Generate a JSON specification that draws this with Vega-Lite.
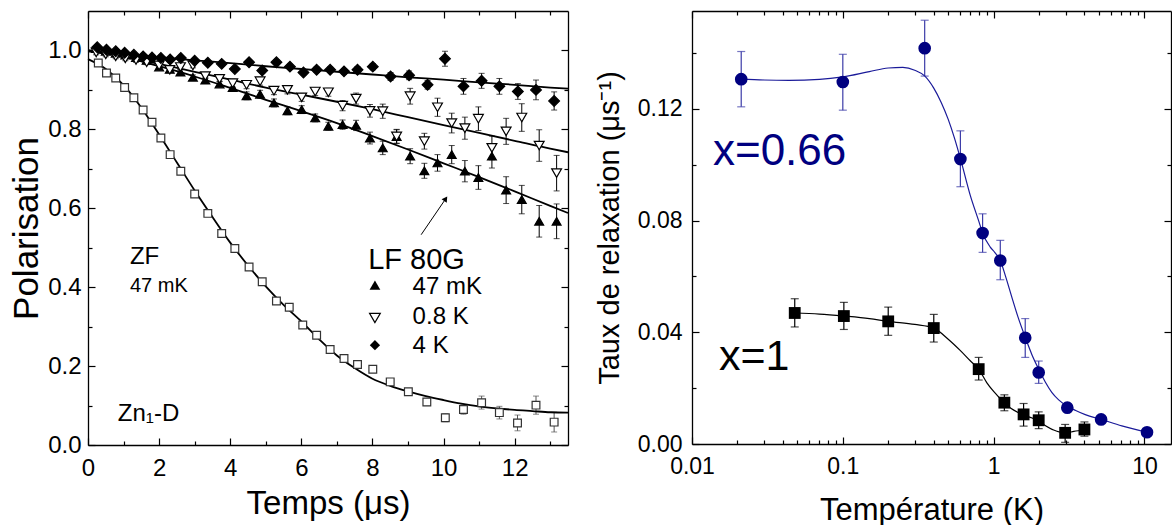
{
  "$schema": "https://vega.github.io/schema/vega-lite/v6.json",
  "padding": {"left": 9, "top": 10, "right": 0, "bottom": 0},
  "spacing": 23,
  "resolve": {"scale": {"shape": "independent", "fill": "independent", "stroke": "independent", "color": "independent", "size": "independent"}},
  "config": {
    "font": "Liberation Sans",
    "view": {"stroke": null},
    "axis": {"domainColor": "black", "domainWidth": 1.3, "tickColor": "black", "tickWidth": 1.2, "labelColor": "black", "titleColor": "black", "titleFontWeight": "normal", "grid": false, "labelFont": "Liberation Sans", "titleFont": "Liberation Sans", "labelFlush": false, "labelOverlap": false}
  },
  "datasets": {
    "pol": [
      {"s": "ZF", "t": 0.29, "P": 0.968, "lo": 0.962, "hi": 0.974},
      {"s": "ZF", "t": 0.52, "P": 0.943, "lo": 0.937, "hi": 0.949},
      {"s": "ZF", "t": 0.78, "P": 0.930, "lo": 0.924, "hi": 0.936},
      {"s": "ZF", "t": 1.03, "P": 0.906, "lo": 0.900, "hi": 0.912},
      {"s": "ZF", "t": 1.29, "P": 0.880, "lo": 0.874, "hi": 0.886},
      {"s": "ZF", "t": 1.55, "P": 0.849, "lo": 0.843, "hi": 0.855},
      {"s": "ZF", "t": 1.80, "P": 0.818, "lo": 0.812, "hi": 0.824},
      {"s": "ZF", "t": 2.05, "P": 0.778, "lo": 0.772, "hi": 0.784},
      {"s": "ZF", "t": 2.31, "P": 0.736, "lo": 0.730, "hi": 0.742},
      {"s": "ZF", "t": 2.61, "P": 0.694, "lo": 0.688, "hi": 0.700},
      {"s": "ZF", "t": 3.00, "P": 0.636, "lo": 0.630, "hi": 0.642},
      {"s": "ZF", "t": 3.37, "P": 0.587, "lo": 0.581, "hi": 0.593},
      {"s": "ZF", "t": 3.76, "P": 0.536, "lo": 0.530, "hi": 0.542},
      {"s": "ZF", "t": 4.13, "P": 0.498, "lo": 0.492, "hi": 0.504},
      {"s": "ZF", "t": 4.53, "P": 0.451, "lo": 0.445, "hi": 0.457},
      {"s": "ZF", "t": 4.90, "P": 0.414, "lo": 0.408, "hi": 0.420},
      {"s": "ZF", "t": 5.30, "P": 0.365, "lo": 0.359, "hi": 0.371},
      {"s": "ZF", "t": 5.66, "P": 0.349, "lo": 0.343, "hi": 0.355},
      {"s": "ZF", "t": 6.04, "P": 0.304, "lo": 0.298, "hi": 0.310},
      {"s": "ZF", "t": 6.43, "P": 0.278, "lo": 0.272, "hi": 0.284},
      {"s": "ZF", "t": 6.81, "P": 0.242, "lo": 0.236, "hi": 0.248},
      {"s": "ZF", "t": 7.20, "P": 0.219, "lo": 0.213, "hi": 0.225},
      {"s": "ZF", "t": 7.58, "P": 0.204, "lo": 0.198, "hi": 0.210},
      {"s": "ZF", "t": 8.01, "P": 0.192, "lo": 0.186, "hi": 0.198},
      {"s": "ZF", "t": 8.50, "P": 0.160, "lo": 0.153, "hi": 0.167},
      {"s": "ZF", "t": 9.01, "P": 0.135, "lo": 0.127, "hi": 0.143},
      {"s": "ZF", "t": 9.53, "P": 0.109, "lo": 0.100, "hi": 0.118},
      {"s": "ZF", "t": 10.05, "P": 0.069, "lo": 0.059, "hi": 0.079},
      {"s": "ZF", "t": 10.56, "P": 0.090, "lo": 0.078, "hi": 0.102},
      {"s": "ZF", "t": 11.07, "P": 0.107, "lo": 0.091, "hi": 0.124},
      {"s": "ZF", "t": 11.57, "P": 0.082, "lo": 0.066, "hi": 0.098},
      {"s": "ZF", "t": 12.08, "P": 0.056, "lo": 0.036, "hi": 0.076},
      {"s": "ZF", "t": 12.60, "P": 0.101, "lo": 0.078, "hi": 0.124},
      {"s": "ZF", "t": 13.11, "P": 0.058, "lo": 0.033, "hi": 0.083},
      {"s": "A", "t": 0.23, "P": 1.005, "lo": 0.999, "hi": 1.011},
      {"s": "A", "t": 0.50, "P": 0.998, "lo": 0.992, "hi": 1.004},
      {"s": "A", "t": 0.78, "P": 0.993, "lo": 0.987, "hi": 0.999},
      {"s": "A", "t": 1.05, "P": 0.988, "lo": 0.982, "hi": 0.994},
      {"s": "A", "t": 1.35, "P": 0.982, "lo": 0.976, "hi": 0.988},
      {"s": "A", "t": 1.65, "P": 0.975, "lo": 0.969, "hi": 0.981},
      {"s": "A", "t": 2.00, "P": 0.958, "lo": 0.952, "hi": 0.964},
      {"s": "A", "t": 2.30, "P": 0.952, "lo": 0.946, "hi": 0.958},
      {"s": "A", "t": 2.60, "P": 0.945, "lo": 0.939, "hi": 0.951},
      {"s": "A", "t": 2.95, "P": 0.932, "lo": 0.926, "hi": 0.938},
      {"s": "A", "t": 3.30, "P": 0.925, "lo": 0.919, "hi": 0.931},
      {"s": "A", "t": 3.70, "P": 0.915, "lo": 0.909, "hi": 0.921},
      {"s": "A", "t": 4.07, "P": 0.906, "lo": 0.896, "hi": 0.916},
      {"s": "A", "t": 4.46, "P": 0.885, "lo": 0.875, "hi": 0.895},
      {"s": "A", "t": 4.84, "P": 0.889, "lo": 0.879, "hi": 0.899},
      {"s": "A", "t": 5.23, "P": 0.867, "lo": 0.857, "hi": 0.877},
      {"s": "A", "t": 5.61, "P": 0.847, "lo": 0.837, "hi": 0.857},
      {"s": "A", "t": 6.01, "P": 0.850, "lo": 0.840, "hi": 0.860},
      {"s": "A", "t": 6.39, "P": 0.829, "lo": 0.819, "hi": 0.839},
      {"s": "A", "t": 6.76, "P": 0.808, "lo": 0.798, "hi": 0.818},
      {"s": "A", "t": 7.16, "P": 0.812, "lo": 0.800, "hi": 0.824},
      {"s": "A", "t": 7.54, "P": 0.810, "lo": 0.797, "hi": 0.823},
      {"s": "A", "t": 7.93, "P": 0.778, "lo": 0.763, "hi": 0.793},
      {"s": "A", "t": 8.29, "P": 0.753, "lo": 0.736, "hi": 0.770},
      {"s": "A", "t": 8.68, "P": 0.782, "lo": 0.765, "hi": 0.799},
      {"s": "A", "t": 9.06, "P": 0.732, "lo": 0.713, "hi": 0.751},
      {"s": "A", "t": 9.46, "P": 0.695, "lo": 0.676, "hi": 0.714},
      {"s": "A", "t": 9.83, "P": 0.715, "lo": 0.694, "hi": 0.736},
      {"s": "A", "t": 10.23, "P": 0.736, "lo": 0.713, "hi": 0.759},
      {"s": "A", "t": 10.60, "P": 0.694, "lo": 0.667, "hi": 0.721},
      {"s": "A", "t": 10.98, "P": 0.678, "lo": 0.648, "hi": 0.708},
      {"s": "A", "t": 11.36, "P": 0.732, "lo": 0.702, "hi": 0.762},
      {"s": "A", "t": 11.76, "P": 0.646, "lo": 0.612, "hi": 0.680},
      {"s": "A", "t": 12.20, "P": 0.622, "lo": 0.586, "hi": 0.658},
      {"s": "A", "t": 12.69, "P": 0.567, "lo": 0.527, "hi": 0.607},
      {"s": "A", "t": 13.18, "P": 0.567, "lo": 0.523, "hi": 0.611},
      {"s": "B", "t": 0.23, "P": 0.995, "lo": 0.989, "hi": 1.001},
      {"s": "B", "t": 0.50, "P": 0.990, "lo": 0.984, "hi": 0.996},
      {"s": "B", "t": 0.78, "P": 0.985, "lo": 0.979, "hi": 0.991},
      {"s": "B", "t": 1.05, "P": 0.980, "lo": 0.974, "hi": 0.986},
      {"s": "B", "t": 1.35, "P": 0.976, "lo": 0.970, "hi": 0.982},
      {"s": "B", "t": 1.65, "P": 0.970, "lo": 0.964, "hi": 0.976},
      {"s": "B", "t": 2.00, "P": 0.962, "lo": 0.956, "hi": 0.968},
      {"s": "B", "t": 2.30, "P": 0.951, "lo": 0.945, "hi": 0.957},
      {"s": "B", "t": 2.60, "P": 0.958, "lo": 0.952, "hi": 0.964},
      {"s": "B", "t": 2.95, "P": 0.962, "lo": 0.956, "hi": 0.968},
      {"s": "B", "t": 3.30, "P": 0.935, "lo": 0.929, "hi": 0.941},
      {"s": "B", "t": 3.70, "P": 0.928, "lo": 0.922, "hi": 0.934},
      {"s": "B", "t": 4.07, "P": 0.917, "lo": 0.907, "hi": 0.927},
      {"s": "B", "t": 4.46, "P": 0.913, "lo": 0.903, "hi": 0.923},
      {"s": "B", "t": 4.84, "P": 0.922, "lo": 0.912, "hi": 0.932},
      {"s": "B", "t": 5.23, "P": 0.898, "lo": 0.888, "hi": 0.908},
      {"s": "B", "t": 5.61, "P": 0.900, "lo": 0.890, "hi": 0.910},
      {"s": "B", "t": 6.01, "P": 0.881, "lo": 0.871, "hi": 0.891},
      {"s": "B", "t": 6.39, "P": 0.896, "lo": 0.886, "hi": 0.906},
      {"s": "B", "t": 6.76, "P": 0.894, "lo": 0.884, "hi": 0.904},
      {"s": "B", "t": 7.16, "P": 0.860, "lo": 0.847, "hi": 0.873},
      {"s": "B", "t": 7.54, "P": 0.878, "lo": 0.864, "hi": 0.892},
      {"s": "B", "t": 7.93, "P": 0.847, "lo": 0.831, "hi": 0.863},
      {"s": "B", "t": 8.29, "P": 0.846, "lo": 0.828, "hi": 0.864},
      {"s": "B", "t": 8.68, "P": 0.782, "lo": 0.764, "hi": 0.800},
      {"s": "B", "t": 9.06, "P": 0.884, "lo": 0.864, "hi": 0.904},
      {"s": "B", "t": 9.46, "P": 0.770, "lo": 0.750, "hi": 0.790},
      {"s": "B", "t": 9.83, "P": 0.856, "lo": 0.833, "hi": 0.879},
      {"s": "B", "t": 10.23, "P": 0.816, "lo": 0.791, "hi": 0.841},
      {"s": "B", "t": 10.60, "P": 0.803, "lo": 0.775, "hi": 0.831},
      {"s": "B", "t": 10.98, "P": 0.827, "lo": 0.797, "hi": 0.857},
      {"s": "B", "t": 11.36, "P": 0.753, "lo": 0.723, "hi": 0.783},
      {"s": "B", "t": 11.76, "P": 0.795, "lo": 0.762, "hi": 0.828},
      {"s": "B", "t": 12.20, "P": 0.830, "lo": 0.795, "hi": 0.865},
      {"s": "B", "t": 12.69, "P": 0.759, "lo": 0.719, "hi": 0.799},
      {"s": "B", "t": 13.18, "P": 0.689, "lo": 0.644, "hi": 0.734},
      {"s": "C", "t": 0.26, "P": 1.008, "lo": 1.004, "hi": 1.012},
      {"s": "C", "t": 0.52, "P": 1.002, "lo": 0.998, "hi": 1.006},
      {"s": "C", "t": 0.78, "P": 0.998, "lo": 0.994, "hi": 1.002},
      {"s": "C", "t": 1.03, "P": 0.994, "lo": 0.990, "hi": 0.998},
      {"s": "C", "t": 1.29, "P": 0.989, "lo": 0.985, "hi": 0.993},
      {"s": "C", "t": 1.55, "P": 0.985, "lo": 0.981, "hi": 0.989},
      {"s": "C", "t": 1.80, "P": 0.982, "lo": 0.978, "hi": 0.986},
      {"s": "C", "t": 2.05, "P": 0.981, "lo": 0.977, "hi": 0.985},
      {"s": "C", "t": 2.31, "P": 0.977, "lo": 0.973, "hi": 0.981},
      {"s": "C", "t": 2.61, "P": 0.981, "lo": 0.977, "hi": 0.985},
      {"s": "C", "t": 3.00, "P": 0.974, "lo": 0.969, "hi": 0.979},
      {"s": "C", "t": 3.37, "P": 0.969, "lo": 0.964, "hi": 0.974},
      {"s": "C", "t": 3.76, "P": 0.966, "lo": 0.961, "hi": 0.971},
      {"s": "C", "t": 4.13, "P": 0.953, "lo": 0.948, "hi": 0.958},
      {"s": "C", "t": 4.53, "P": 0.970, "lo": 0.965, "hi": 0.975},
      {"s": "C", "t": 4.90, "P": 0.949, "lo": 0.943, "hi": 0.955},
      {"s": "C", "t": 5.30, "P": 0.970, "lo": 0.964, "hi": 0.976},
      {"s": "C", "t": 5.68, "P": 0.959, "lo": 0.953, "hi": 0.965},
      {"s": "C", "t": 6.06, "P": 0.944, "lo": 0.938, "hi": 0.950},
      {"s": "C", "t": 6.43, "P": 0.951, "lo": 0.944, "hi": 0.958},
      {"s": "C", "t": 6.81, "P": 0.951, "lo": 0.944, "hi": 0.958},
      {"s": "C", "t": 7.20, "P": 0.947, "lo": 0.940, "hi": 0.954},
      {"s": "C", "t": 7.58, "P": 0.951, "lo": 0.943, "hi": 0.959},
      {"s": "C", "t": 8.01, "P": 0.959, "lo": 0.951, "hi": 0.967},
      {"s": "C", "t": 8.51, "P": 0.934, "lo": 0.924, "hi": 0.944},
      {"s": "C", "t": 9.03, "P": 0.937, "lo": 0.926, "hi": 0.948},
      {"s": "C", "t": 9.55, "P": 0.913, "lo": 0.902, "hi": 0.924},
      {"s": "C", "t": 10.04, "P": 0.979, "lo": 0.960, "hi": 0.998},
      {"s": "C", "t": 10.56, "P": 0.909, "lo": 0.889, "hi": 0.929},
      {"s": "C", "t": 11.07, "P": 0.923, "lo": 0.904, "hi": 0.942},
      {"s": "C", "t": 11.57, "P": 0.909, "lo": 0.889, "hi": 0.929},
      {"s": "C", "t": 12.09, "P": 0.896, "lo": 0.876, "hi": 0.916},
      {"s": "C", "t": 12.60, "P": 0.900, "lo": 0.875, "hi": 0.925},
      {"s": "C", "t": 13.11, "P": 0.872, "lo": 0.849, "hi": 0.895}
    ],
    "polfit": [
      {"s": "ZF", "t": 0, "P": 0.978}, {"s": "ZF", "t": 0.5, "P": 0.953}, {"s": "ZF", "t": 1, "P": 0.912}, {"s": "ZF", "t": 1.5, "P": 0.855},
      {"s": "ZF", "t": 2, "P": 0.787}, {"s": "ZF", "t": 2.5, "P": 0.716}, {"s": "ZF", "t": 3, "P": 0.645}, {"s": "ZF", "t": 3.5, "P": 0.578},
      {"s": "ZF", "t": 4, "P": 0.513}, {"s": "ZF", "t": 4.5, "P": 0.455}, {"s": "ZF", "t": 5, "P": 0.402}, {"s": "ZF", "t": 5.5, "P": 0.355},
      {"s": "ZF", "t": 6, "P": 0.313}, {"s": "ZF", "t": 6.5, "P": 0.268}, {"s": "ZF", "t": 7, "P": 0.227}, {"s": "ZF", "t": 7.5, "P": 0.195},
      {"s": "ZF", "t": 8, "P": 0.168}, {"s": "ZF", "t": 8.5, "P": 0.150}, {"s": "ZF", "t": 9, "P": 0.136}, {"s": "ZF", "t": 9.5, "P": 0.124},
      {"s": "ZF", "t": 10, "P": 0.114}, {"s": "ZF", "t": 10.5, "P": 0.105}, {"s": "ZF", "t": 11, "P": 0.098}, {"s": "ZF", "t": 11.5, "P": 0.093},
      {"s": "ZF", "t": 12, "P": 0.089}, {"s": "ZF", "t": 12.5, "P": 0.086}, {"s": "ZF", "t": 13, "P": 0.083}, {"s": "ZF", "t": 13.5, "P": 0.082},
      {"s": "A", "t": 0, "P": 1.0}, {"s": "A", "t": 1, "P": 0.984}, {"s": "A", "t": 2, "P": 0.960}, {"s": "A", "t": 3, "P": 0.934},
      {"s": "A", "t": 4, "P": 0.905}, {"s": "A", "t": 5, "P": 0.875}, {"s": "A", "t": 6, "P": 0.846}, {"s": "A", "t": 7, "P": 0.816},
      {"s": "A", "t": 8, "P": 0.783}, {"s": "A", "t": 9, "P": 0.749}, {"s": "A", "t": 10, "P": 0.714}, {"s": "A", "t": 11, "P": 0.679},
      {"s": "A", "t": 12, "P": 0.643}, {"s": "A", "t": 13, "P": 0.606}, {"s": "A", "t": 13.5, "P": 0.588},
      {"s": "B", "t": 0, "P": 0.998}, {"s": "B", "t": 1, "P": 0.985}, {"s": "B", "t": 2, "P": 0.966}, {"s": "B", "t": 3, "P": 0.946},
      {"s": "B", "t": 4, "P": 0.926}, {"s": "B", "t": 5, "P": 0.906}, {"s": "B", "t": 6, "P": 0.888}, {"s": "B", "t": 7, "P": 0.870},
      {"s": "B", "t": 8, "P": 0.851}, {"s": "B", "t": 9, "P": 0.831}, {"s": "B", "t": 10, "P": 0.811}, {"s": "B", "t": 11, "P": 0.791},
      {"s": "B", "t": 12, "P": 0.771}, {"s": "B", "t": 13, "P": 0.751}, {"s": "B", "t": 13.5, "P": 0.742},
      {"s": "C", "t": 0, "P": 1.0}, {"s": "C", "t": 1, "P": 0.991}, {"s": "C", "t": 2, "P": 0.983}, {"s": "C", "t": 3, "P": 0.975},
      {"s": "C", "t": 4, "P": 0.968}, {"s": "C", "t": 5, "P": 0.960}, {"s": "C", "t": 6, "P": 0.953}, {"s": "C", "t": 7, "P": 0.946},
      {"s": "C", "t": 8, "P": 0.939}, {"s": "C", "t": 9, "P": 0.932}, {"s": "C", "t": 10, "P": 0.926}, {"s": "C", "t": 11, "P": 0.919},
      {"s": "C", "t": 12, "P": 0.913}, {"s": "C", "t": 13, "P": 0.906}, {"s": "C", "t": 13.5, "P": 0.903}
    ],
    "rate": [
      {"x": "0.66", "T": 0.0212, "r": 0.1306, "lo": 0.1207, "hi": 0.1405},
      {"x": "0.66", "T": 0.1, "r": 0.1296, "lo": 0.1195, "hi": 0.1395},
      {"x": "0.66", "T": 0.349, "r": 0.1417, "lo": 0.1317, "hi": 0.1517},
      {"x": "0.66", "T": 0.602, "r": 0.102, "lo": 0.0921, "hi": 0.1121},
      {"x": "0.66", "T": 0.845, "r": 0.0755, "lo": 0.0686, "hi": 0.0824},
      {"x": "0.66", "T": 1.107, "r": 0.0657, "lo": 0.0588, "hi": 0.0729},
      {"x": "0.66", "T": 1.62, "r": 0.038, "lo": 0.031, "hi": 0.0449},
      {"x": "0.66", "T": 1.99, "r": 0.0256, "lo": 0.0217, "hi": 0.0297},
      {"x": "0.66", "T": 3.08, "r": 0.013, "lo": 0.012, "hi": 0.014},
      {"x": "0.66", "T": 5.16, "r": 0.0088, "lo": 0.0082, "hi": 0.0094},
      {"x": "0.66", "T": 10.4, "r": 0.0042, "lo": 0.0037, "hi": 0.0047},
      {"x": "1", "T": 0.048, "r": 0.0469, "lo": 0.0419, "hi": 0.052},
      {"x": "1", "T": 0.1016, "r": 0.0458, "lo": 0.041, "hi": 0.0507},
      {"x": "1", "T": 0.2, "r": 0.0439, "lo": 0.0389, "hi": 0.049},
      {"x": "1", "T": 0.401, "r": 0.0415, "lo": 0.0365, "hi": 0.0464},
      {"x": "1", "T": 0.796, "r": 0.0268, "lo": 0.0229, "hi": 0.031},
      {"x": "1", "T": 1.178, "r": 0.0148, "lo": 0.0119, "hi": 0.0176},
      {"x": "1", "T": 1.58, "r": 0.0106, "lo": 0.0064, "hi": 0.0145},
      {"x": "1", "T": 1.99, "r": 0.0085, "lo": 0.0055, "hi": 0.0115},
      {"x": "1", "T": 2.98, "r": 0.004, "lo": 0.0006, "hi": 0.007},
      {"x": "1", "T": 4.0, "r": 0.0052, "lo": 0.0028, "hi": 0.0079}
    ],
    "ratefit": [
      {"x": "0.66", "T": 0.021, "r": 0.1306}, {"x": "0.66", "T": 0.03, "r": 0.1303}, {"x": "0.66", "T": 0.044, "r": 0.1302},
      {"x": "0.66", "T": 0.07, "r": 0.1305}, {"x": "0.66", "T": 0.1, "r": 0.1314}, {"x": "0.66", "T": 0.15, "r": 0.1333},
      {"x": "0.66", "T": 0.2, "r": 0.1346}, {"x": "0.66", "T": 0.25, "r": 0.1348}, {"x": "0.66", "T": 0.3, "r": 0.1338},
      {"x": "0.66", "T": 0.35, "r": 0.1317}, {"x": "0.66", "T": 0.4, "r": 0.1275}, {"x": "0.66", "T": 0.45, "r": 0.1222},
      {"x": "0.66", "T": 0.5, "r": 0.1162}, {"x": "0.66", "T": 0.55, "r": 0.1095}, {"x": "0.66", "T": 0.6, "r": 0.1025},
      {"x": "0.66", "T": 0.7, "r": 0.089}, {"x": "0.66", "T": 0.8, "r": 0.0795}, {"x": "0.66", "T": 0.845, "r": 0.0755},
      {"x": "0.66", "T": 0.95, "r": 0.0705}, {"x": "0.66", "T": 1.02, "r": 0.0685}, {"x": "0.66", "T": 1.107, "r": 0.0657},
      {"x": "0.66", "T": 1.2, "r": 0.060}, {"x": "0.66", "T": 1.32, "r": 0.0526}, {"x": "0.66", "T": 1.45, "r": 0.0455},
      {"x": "0.66", "T": 1.62, "r": 0.0382}, {"x": "0.66", "T": 1.8, "r": 0.0318}, {"x": "0.66", "T": 1.99, "r": 0.0268},
      {"x": "0.66", "T": 2.2, "r": 0.0222}, {"x": "0.66", "T": 2.43, "r": 0.0185}, {"x": "0.66", "T": 2.7, "r": 0.0158},
      {"x": "0.66", "T": 3.08, "r": 0.0135}, {"x": "0.66", "T": 3.5, "r": 0.012}, {"x": "0.66", "T": 4.05, "r": 0.0105},
      {"x": "0.66", "T": 5.16, "r": 0.0088}, {"x": "0.66", "T": 7.08, "r": 0.0065}, {"x": "0.66", "T": 10.4, "r": 0.0042},
      {"x": "1", "T": 0.048, "r": 0.0469}, {"x": "1", "T": 0.07, "r": 0.0465}, {"x": "1", "T": 0.1016, "r": 0.0458},
      {"x": "1", "T": 0.15, "r": 0.0449}, {"x": "1", "T": 0.2, "r": 0.0439}, {"x": "1", "T": 0.3, "r": 0.0428},
      {"x": "1", "T": 0.401, "r": 0.0415}, {"x": "1", "T": 0.5, "r": 0.0375}, {"x": "1", "T": 0.6, "r": 0.0335},
      {"x": "1", "T": 0.7, "r": 0.0298}, {"x": "1", "T": 0.796, "r": 0.0268}, {"x": "1", "T": 0.9, "r": 0.022},
      {"x": "1", "T": 1.0, "r": 0.0188}, {"x": "1", "T": 1.178, "r": 0.0148}, {"x": "1", "T": 1.3, "r": 0.0128},
      {"x": "1", "T": 1.45, "r": 0.0113}, {"x": "1", "T": 1.58, "r": 0.0104}, {"x": "1", "T": 1.8, "r": 0.0093},
      {"x": "1", "T": 1.99, "r": 0.0081}, {"x": "1", "T": 2.2, "r": 0.0066}, {"x": "1", "T": 2.5, "r": 0.005},
      {"x": "1", "T": 2.98, "r": 0.004}, {"x": "1", "T": 3.4, "r": 0.0045}, {"x": "1", "T": 4.0, "r": 0.0052}
    ]
  },
  "hconcat": [
    {
      "width": 480,
      "height": 434,
      "resolve": {"axis": {"x": "independent", "y": "independent"}},
      "layer": [
        {
          "data": {"name": "pol"},
          "mark": {"type": "errorbar", "ticks": {"size": 6}, "thickness": 1},
          "encoding": {
            "x": {"field": "t", "type": "quantitative", "scale": {"domain": [0, 13.5], "nice": false, "zero": false}, "axis": null},
            "y": {"field": "lo", "type": "quantitative", "scale": {"domain": [0, 1.1], "nice": false}, "axis": null},
            "y2": {"field": "hi"},
            "color": {"field": "s", "type": "nominal", "scale": {"domain": ["ZF", "A", "B", "C"], "range": ["#555555", "#000000", "#000000", "#000000"]}, "legend": null}
          }
        },
        {
          "data": {"name": "polfit"},
          "mark": {"type": "line", "color": "black", "strokeWidth": 1.8, "interpolate": "monotone"},
          "encoding": {
            "x": {"field": "t", "type": "quantitative", "axis": {
              "orient": "bottom", "values": [0,1,2,3,4,5,6,7,8,9,10,11,12,13],
              "labelExpr": "datum.value % 2 === 0 ? datum.label : ''", "format": "d",
              "tickSize": {"condition": {"test": "datum.value % 2 === 0", "value": -7}, "value": -4},
              "labelPadding": 18, "labelFontSize": 24,
              "title": "Temps (μs)", "titleFontSize": 33, "titlePadding": 4}},
            "y": {"field": "P", "type": "quantitative", "axis": {
              "orient": "left", "values": [0,0.1,0.2,0.3,0.4,0.5,0.6,0.7,0.8,0.9,1.0],
              "labelExpr": "round(datum.value*10) % 2 === 0 ? datum.label : ''", "format": ".1f",
              "tickSize": {"condition": {"test": "round(datum.value*10) % 2 === 0", "value": -7}, "value": -4},
              "labelPadding": 14, "labelFontSize": 24,
              "title": "Polarisation", "titleFontSize": 35, "titlePadding": 3}},
            "detail": {"field": "s"}
          }
        },
        {
          "data": {"name": "pol"},
          "mark": {"type": "point", "opacity": 1, "strokeWidth": 1.2},
          "encoding": {
            "x": {"field": "t", "type": "quantitative", "axis": {
              "orient": "top", "values": [0,1,2,3,4,5,6,7,8,9,10,11,12,13], "labels": false, "title": null,
              "tickSize": {"condition": {"test": "datum.value % 2 === 0", "value": -7}, "value": -4}}},
            "y": {"field": "P", "type": "quantitative", "axis": {
              "orient": "right", "values": [0,0.1,0.2,0.3,0.4,0.5,0.6,0.7,0.8,0.9,1.0], "labels": false, "title": null,
              "tickSize": {"condition": {"test": "round(datum.value*10) % 2 === 0", "value": -7}, "value": -4}}},
            "shape": {"field": "s", "type": "nominal", "scale": {"domain": ["ZF", "A", "B", "C"], "range": ["square", "triangle-up", "triangle-down", "diamond"]}, "legend": null},
            "fill": {"field": "s", "type": "nominal", "scale": {"domain": ["ZF", "A", "B", "C"], "range": ["#ffffff", "#000000", "#ffffff", "#000000"]}, "legend": null},
            "stroke": {"field": "s", "type": "nominal", "scale": {"domain": ["ZF", "A", "B", "C"], "range": ["#333333", "#000000", "#000000", "#000000"]}, "legend": null},
            "size": {"field": "s", "type": "nominal", "scale": {"domain": ["ZF", "A", "B", "C"], "range": [60, 115, 115, 105]}, "legend": null}
          }
        },
        {
          "data": {"values": [{}]},
          "layer": [
            {"mark": {"type": "text", "text": "ZF", "fontSize": 24, "align": "left", "baseline": "alphabetic"},
             "encoding": {"x": {"datum": 1.18, "axis": null}, "y": {"datum": 0.458, "axis": null}}},
            {"mark": {"type": "text", "text": "47 mK", "fontSize": 20, "align": "left", "baseline": "alphabetic"},
             "encoding": {"x": {"datum": 1.18, "axis": null}, "y": {"datum": 0.387, "axis": null}}},
            {"mark": {"type": "text", "text": "Zn₁-D", "fontSize": 24, "align": "left", "baseline": "alphabetic"},
             "encoding": {"x": {"datum": 0.84, "axis": null}, "y": {"datum": 0.061, "axis": null}}},
            {"mark": {"type": "text", "text": "LF 80G", "fontSize": 29, "align": "left", "baseline": "alphabetic"},
             "encoding": {"x": {"datum": 7.88, "axis": null}, "y": {"datum": 0.446, "axis": null}}},
            {"mark": {"type": "point", "shape": "triangle-up", "filled": true, "color": "black", "opacity": 1, "size": 115},
             "encoding": {"x": {"datum": 8.07, "axis": null}, "y": {"datum": 0.405, "axis": null}}},
            {"mark": {"type": "point", "shape": "triangle-down", "filled": false, "color": "black", "opacity": 1, "size": 115, "strokeWidth": 1.2},
             "encoding": {"x": {"datum": 8.07, "axis": null}, "y": {"datum": 0.322, "axis": null}}},
            {"mark": {"type": "point", "shape": "diamond", "filled": true, "color": "black", "opacity": 1, "size": 105},
             "encoding": {"x": {"datum": 8.07, "axis": null}, "y": {"datum": 0.253, "axis": null}}},
            {"mark": {"type": "text", "text": "47 mK", "fontSize": 24, "align": "left", "baseline": "alphabetic"},
             "encoding": {"x": {"datum": 9.13, "axis": null}, "y": {"datum": 0.383, "axis": null}}},
            {"mark": {"type": "text", "text": "0.8 K", "fontSize": 24, "align": "left", "baseline": "alphabetic"},
             "encoding": {"x": {"datum": 9.13, "axis": null}, "y": {"datum": 0.306, "axis": null}}},
            {"mark": {"type": "text", "text": "4 K", "fontSize": 24, "align": "left", "baseline": "alphabetic"},
             "encoding": {"x": {"datum": 9.13, "axis": null}, "y": {"datum": 0.234, "axis": null}}},
            {"mark": {"type": "rule", "color": "black", "strokeWidth": 1},
             "encoding": {"x": {"datum": 9.37, "axis": null}, "y": {"datum": 0.533, "axis": null}, "x2": {"datum": 10.06}, "y2": {"datum": 0.624}}},
            {"mark": {"type": "point", "shape": "triangle-up", "filled": true, "color": "black", "opacity": 1, "size": 40, "angle": 34},
             "encoding": {"x": {"datum": 10.06, "axis": null}, "y": {"datum": 0.624, "axis": null}}}
          ]
        }
      ]
    },
    {
      "width": 479,
      "height": 433,
      "resolve": {"axis": {"x": "independent", "y": "independent"}, "scale": {"color": "independent"}},
      "layer": [
        {
          "data": {"name": "rate"},
          "mark": {"type": "errorbar", "ticks": {"size": 8}, "thickness": 1.2},
          "encoding": {
            "x": {"field": "T", "type": "quantitative", "scale": {"type": "log", "domain": [0.01, 15], "nice": false}, "axis": null},
            "y": {"field": "lo", "type": "quantitative", "scale": {"domain": [0, 0.155], "nice": false}, "axis": null},
            "y2": {"field": "hi"},
            "color": {"field": "x", "type": "nominal", "scale": {"domain": ["0.66", "1"], "range": ["#3c3ca8", "#000000"]}, "legend": null}
          }
        },
        {
          "data": {"name": "ratefit"},
          "mark": {"type": "line", "strokeWidth": 1.2, "interpolate": "monotone"},
          "encoding": {
            "x": {"field": "T", "type": "quantitative", "axis": {
              "orient": "bottom",
              "values": [0.01,0.02,0.03,0.04,0.05,0.06,0.07,0.08,0.09,0.1,0.2,0.3,0.4,0.5,0.6,0.7,0.8,0.9,1,2,3,4,5,6,7,8,9,10],
              "labelExpr": "abs(log(datum.value)/LN10 - round(log(datum.value)/LN10)) < 0.001 ? format(datum.value, '~g') : ''",
              "tickSize": {"condition": {"test": "abs(log(datum.value)/LN10 - round(log(datum.value)/LN10)) < 0.001", "value": -7}, "value": -4},
              "labelPadding": 18, "labelFontSize": 23,
              "title": "Température (K)", "titleFontSize": 31, "titlePadding": 14}},
            "y": {"field": "r", "type": "quantitative", "axis": {
              "orient": "left", "values": [0,0.02,0.04,0.06,0.08,0.1,0.12,0.14],
              "labelExpr": "round(datum.value*100) % 4 === 0 ? format(datum.value, '.2f') : ''",
              "tickSize": {"condition": {"test": "round(datum.value*100) % 4 === 0", "value": -7}, "value": -4},
              "labelPadding": 17, "labelFontSize": 23,
              "title": "Taux de relaxation (μs⁻¹)", "titleFontSize": 29, "titlePadding": 13}},
            "color": {"field": "x", "type": "nominal", "scale": {"domain": ["0.66", "1"], "range": ["#1a1a99", "#000000"]}, "legend": null}
          }
        },
        {
          "data": {"name": "rate"},
          "mark": {"type": "point", "filled": true, "opacity": 1},
          "encoding": {
            "x": {"field": "T", "type": "quantitative", "axis": {
              "orient": "top",
              "values": [0.01,0.02,0.03,0.04,0.05,0.06,0.07,0.08,0.09,0.1,0.2,0.3,0.4,0.5,0.6,0.7,0.8,0.9,1,2,3,4,5,6,7,8,9,10],
              "labels": false, "title": null,
              "tickSize": {"condition": {"test": "abs(log(datum.value)/LN10 - round(log(datum.value)/LN10)) < 0.001", "value": -7}, "value": -4}}},
            "y": {"field": "r", "type": "quantitative", "axis": {
              "orient": "right", "values": [0,0.02,0.04,0.06,0.08,0.1,0.12,0.14], "labels": false, "title": null,
              "tickSize": {"condition": {"test": "round(datum.value*100) % 4 === 0", "value": -7}, "value": -4}}},
            "shape": {"field": "x", "type": "nominal", "scale": {"domain": ["0.66", "1"], "range": ["circle", "square"]}, "legend": null},
            "fill": {"field": "x", "type": "nominal", "scale": {"domain": ["0.66", "1"], "range": ["#000080", "#000000"]}, "legend": null},
            "size": {"field": "x", "type": "nominal", "scale": {"domain": ["0.66", "1"], "range": [160, 140]}, "legend": null}
          }
        },
        {
          "data": {"values": [{}]},
          "layer": [
            {"mark": {"type": "text", "text": "x=0.66", "fontSize": 44, "align": "left", "baseline": "alphabetic", "color": "#000080"},
             "encoding": {"x": {"datum": 0.01377, "axis": null}, "y": {"datum": 0.1, "axis": null}}},
            {"mark": {"type": "text", "text": "x=1", "fontSize": 43, "align": "left", "baseline": "alphabetic", "color": "#000000"},
             "encoding": {"x": {"datum": 0.0151, "axis": null}, "y": {"datum": 0.0264, "axis": null}}}
          ]
        }
      ]
    }
  ]
}
